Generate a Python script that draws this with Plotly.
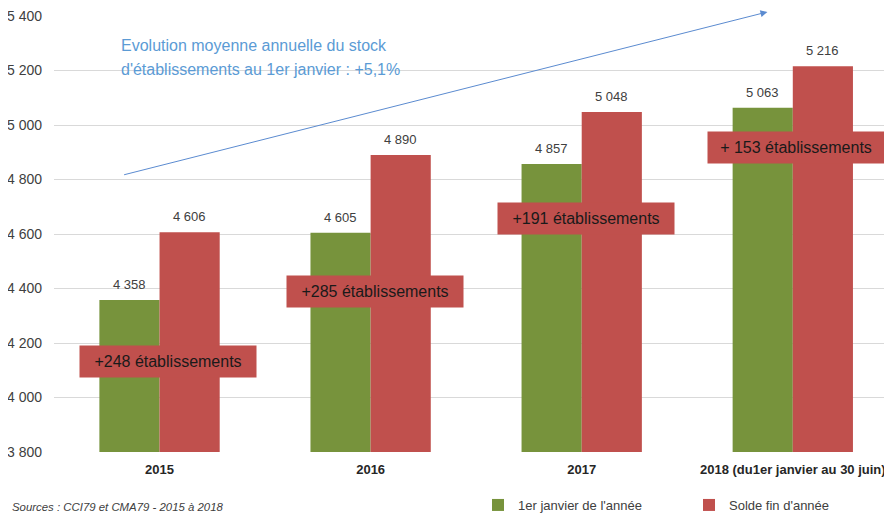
import plotly.graph_objects as go

categories = ["2015", "2016", "2017", "2018 (du1er janvier au 30 juin)"]
debut_annee = [4358, 4605, 4857, 5063]
fin_annee = [4606, 4890, 5048, 5216]
gain_labels = ["+248 établissements", "+285 établissements", "+191 établissements", "+ 153 établissements"]
series_names = ["1er janvier de l'année", "Solde fin d'année"]
y_ticks = [3800, 4000, 4200, 4400, 4600, 4800, 5000, 5200, 5400]
trend_text = ["Evolution moyenne annuelle du stock", "d'établissements au 1er janvier : +5,1%"]

GREEN = "#77933C"
RED = "#C0504D"
FONT = "Liberation Sans"
BARGAP = 0.43

# page body has an 8px margin: figure is drawn shifted by (8, 8)
PAGE_OFF = 8
PLOT_W = 838
PLOT_H = 436

# box positions (layout, not data)
box_pos = [(0.04, 4132), (0.02, 4389), (0.02, 4657), (0.015, 4916)]
trend_text_y = [5290, 5202]

fig = go.Figure()
fig.add_trace(go.Bar(x=categories, y=debut_annee, name=series_names[0],
                     marker=dict(color=GREEN, line=dict(width=0))))
fig.add_trace(go.Bar(x=categories, y=fin_annee, name=series_names[1],
                     marker=dict(color=RED, line=dict(width=0))))

annotations = []
off = (1 - BARGAP) / 4
fmt = lambda v: f"{v:,}".replace(",", " ")
for i in range(len(categories)):
    for val, sign in ((debut_annee[i], -1), (fin_annee[i], 1)):
        annotations.append(dict(x=i + sign * off, y=val, xref="x", yref="y",
                                text=fmt(val), showarrow=False, yanchor="bottom",
                                yshift=6, font=dict(family=FONT, size=13, color="#404040")))
    bx, by = box_pos[i]
    annotations.append(dict(x=i + bx, y=by, xref="x", yref="y", text=gain_labels[i],
                            showarrow=False, bgcolor=RED, width=172, height=27,
                            borderpad=2, font=dict(family=FONT, size=16, color="#1a1a1a")))

# trend arrow
annotations.append(dict(x=2.88, y=5415, ax=-0.175, ay=4816, xref="x", yref="y",
                        axref="x", ayref="y", text="", showarrow=True, arrowhead=2,
                        arrowsize=1.4, arrowwidth=1, arrowcolor="#5B8BD0", standoff=0,
                        startstandoff=0))
for line, ty in zip(trend_text, trend_text_y):
    annotations.append(dict(x=(119 - 54) / PLOT_W, y=ty, xref="paper", yref="y",
                            xanchor="left", yanchor="middle", align="left", showarrow=False,
                            text=line, font=dict(family=FONT, size=16, color="#5B9BD5")))
annotations.append(dict(x=(10 - 54) / PLOT_W, y=-(55 / PLOT_H), xref="paper", yref="paper",
                        xanchor="left", yanchor="middle", showarrow=False,
                        text="<i>Sources : CCI79 et CMA79 - 2015 à 2018</i>",
                        font=dict(family=FONT, size=11.4, color="#404040")))

fig.update_layout(
    width=892 - PAGE_OFF, height=514 - PAGE_OFF,
    margin=dict(l=54 - PAGE_OFF, r=0, t=16 - PAGE_OFF, b=62, autoexpand=False),
    paper_bgcolor="white", plot_bgcolor="white",
    barmode="group", bargap=BARGAP, bargroupgap=0,
    separators=", ",
    showlegend=True,
    legend=dict(orientation="h", x=(478 - 54) / PLOT_W, y=-(53 / PLOT_H), xanchor="left",
                yanchor="middle", entrywidth=166, entrywidthmode="pixels",
                font=dict(family=FONT, size=13, color="#404040"), itemwidth=30),
    annotations=annotations,
    font=dict(family=FONT),
)
fig.update_xaxes(type="category", range=[-0.5, 3.47], showgrid=False, showline=False,
                 ticks="", ticklabelstandoff=8, ticklabeloverflow="allow",
                 tickfont=dict(family=FONT, size=13, color="#262626", weight="bold"))
fig.update_yaxes(range=[3800, 5400], tickvals=y_ticks, tickformat=",d", showgrid=True,
                 gridcolor="#D9D9D9", gridwidth=1, zeroline=False, showline=False,
                 ticks="", ticklabelstandoff=11, ticklabeloverflow="allow",
                 tickfont=dict(family=FONT, size=14, color="#404040"))

fig.write_html("out.html")
